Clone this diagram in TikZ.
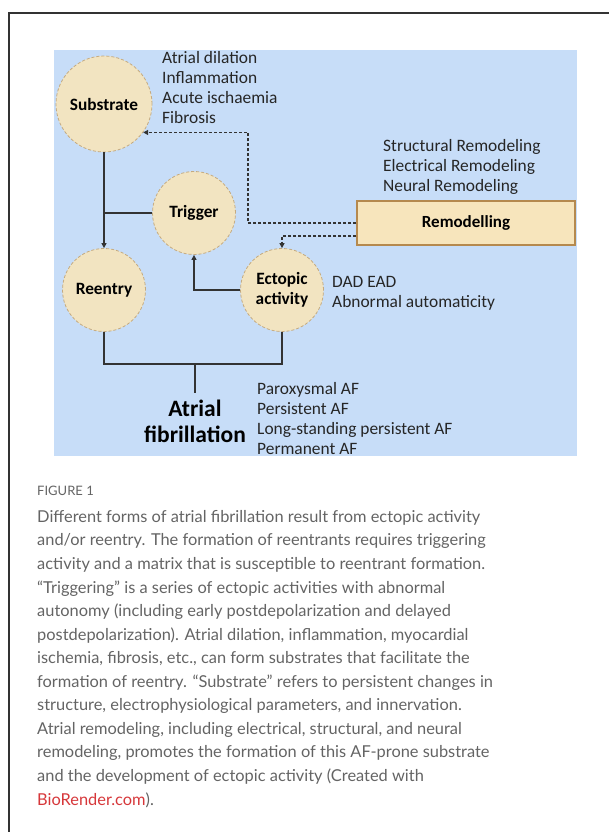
\documentclass[tikz,border=0pt]{standalone}
\usepackage{fontspec}
\setmainfont{Carlito}
\newfontfamily\capfont{Lato}
\usetikzlibrary{arrows.meta, positioning}
\definecolor{panelblue}{RGB}{199,221,248}
\definecolor{cellfill}{RGB}{242,228,193}
\definecolor{celledge}{RGB}{196,170,128}
\definecolor{boxfill}{RGB}{247,229,188}
\definecolor{boxedge}{RGB}{181,137,78}
\definecolor{inkgray}{RGB}{51,51,51}
\definecolor{capgray}{RGB}{100,100,100}
\definecolor{biored}{RGB}{214,55,58}

\begin{document}
\begin{tikzpicture}[
    x=1pt, y=-1pt,
    cell/.style={circle, draw=celledge, fill=cellfill, dash pattern=on 3pt off 2pt, line width=0.8pt, inner sep=0pt, align=center, font=\fontsize{17.3}{20}\selectfont\bfseries},
    remobox/.style={draw=boxedge, fill=boxfill, line width=1.3pt, minimum width=218pt, minimum height=44pt, font=\fontsize{17}{20}\selectfont\bfseries},
    notes/.style={anchor=base west, inner sep=0pt, align=left, font=\fontsize{17.4}{20}\selectfont, text=black!85},
    link/.style={draw=inkgray, line width=1.4pt},
    arr/.style={link, -{Triangle[length=5pt, width=5pt]}},
    dotarr/.style={draw=inkgray, line width=1.3pt, dash pattern=on 3pt off 2pt, -{Triangle[length=5pt, width=5pt]}},
]
    \useasboundingbox (0,0) rectangle (609,832);
    \draw[line width=1.2pt, inkgray] (609,13) -- (9,13) -- (9,832);
    \fill[panelblue] (54,50) rectangle (577,456);

    \node[cell, minimum size=96pt] (sub) at (104,104) {Substrate};
    \node[cell, minimum size=83pt] (trig) at (194,213) {Trigger};
    \node[cell, minimum size=83pt] (reen) at (104,290) {Reentry};
    \node[cell, minimum size=83pt] (ect) at (282,290) {Ectopic\\activity};
    \node[remobox] (remo) at (466,223) {Remodelling};
    \node[anchor=north, inner xsep=0pt, inner ysep=7pt, align=center, font=\fontsize{23.5}{26}\selectfont\bfseries] (af) at (195,393) {Atrial\\fibrillation};

    % Notes beside the nodes (base = last line)
    \node[notes] (subnotes) at (162,124) {Atrial dilation\\Inflammation\\Acute ischaemia\\Fibrosis};
    \node[notes] (remonotes) at (383,191) {Structural Remodeling\\Electrical Remodeling\\Neural Remodeling};
    \node[notes] (ectnotes) at (332,307) {DAD EAD\\Abnormal automaticity};
    \node[notes] (afnotes) at (257,454) {Paroxysmal AF\\Persistent AF\\Long-standing persistent AF\\Permanent AF};

    % Connectors
    \coordinate (tj) at (sub |- trig);
    \coordinate (afj) at (195,364);
    \coordinate (rbend) at (248,0);
    \draw[arr] (sub) -- (reen);
    \draw[link] (trig) -- (tj);
    \draw[arr] (ect) -| (trig);
    \draw[link] (reen) |- (afj) -| (ect);
    \draw[link] (afj) -- (af.north);
    \draw[dotarr] (remo.west) -| (sub.-36 -| rbend) -- (sub.-36);
    \draw[dotarr] ([yshift=-13pt]remo.west) -| (ect.north);

    % Caption
    \node[anchor=base west, inner sep=0pt, font=\capfont\fontsize{13}{16}\selectfont, text=capgray] (fig) at (37,495) {FIGURE 1};
    \node[anchor=base west, inner sep=0pt, align=left, font=\capfont\fontsize{16.4}{23.55}\selectfont, text=capgray] (cap) at (37,805) {Different forms of atrial fibrillation result from ectopic activity\\
and/or reentry. The formation of reentrants requires triggering\\
activity and a matrix that is susceptible to reentrant formation.\\
“Triggering” is a series of ectopic activities with abnormal\\
autonomy (including early postdepolarization and delayed\\
postdepolarization). Atrial dilation, inflammation, myocardial\\
ischemia, fibrosis, etc., can form substrates that facilitate the\\
formation of reentry. “Substrate” refers to persistent changes in\\
structure, electrophysiological parameters, and innervation.\\
Atrial remodeling, including electrical, structural, and neural\\
remodeling, promotes the formation of this AF-prone substrate\\
and the development of ectopic activity (Created with\\
\textcolor{biored}{BioRender.com}).};
\end{tikzpicture}
\end{document}
